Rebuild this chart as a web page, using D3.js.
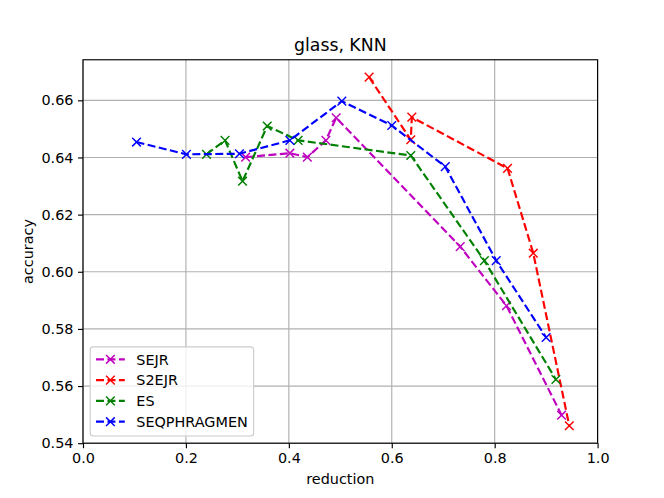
<!DOCTYPE html>
<html>
<head>
<meta charset="utf-8">
<script src="https://cdn.jsdelivr.net/npm/d3@7"></script>
<style>
  body { margin: 0; background: #fff; }
  svg { font-family: "DejaVu Sans", sans-serif; }
</style>
</head>
<body>
<svg width="664" height="498"></svg>
<script>
// series (reduction, accuracy)
var sejrX = [0.316, 0.402, 0.436, 0.472, 0.492, 0.733, 0.823, 0.930];
var sejrY = [0.6401, 0.6415, 0.6401, 0.6460, 0.6539, 0.6088, 0.5881, 0.5498];

var s2ejrX = [0.556, 0.637, 0.639, 0.825, 0.875, 0.945];
var s2ejrY = [0.6681, 0.6462, 0.6541, 0.6362, 0.6065, 0.5461];

var esX = [0.240, 0.276, 0.310, 0.358, 0.418, 0.637, 0.780, 0.919];
var esY = [0.6411, 0.6460, 0.6317, 0.6510, 0.6460, 0.6407, 0.6039, 0.5623];

var seqX = [0.104, 0.201, 0.304, 0.402, 0.503, 0.600, 0.704, 0.803, 0.900];
var seqY = [0.6454, 0.6411, 0.6413, 0.6460, 0.6597, 0.6512, 0.6368, 0.6039, 0.5770];

var seriesNames = ["SEJR", "S2EJR", "ES", "SEQPHRAGMEN"];
var seriesColors = ["#bf00bf", "#ff0000", "#008000", "#0000ff"];

var xTicks = [0.0, 0.2, 0.4, 0.6, 0.8, 1.0];
var yTicks = [0.54, 0.56, 0.58, 0.60, 0.62, 0.64, 0.66];

function zipSeries(xs, ys) {
    return xs.map(function(x, i) { return {x: x, y: ys[i]}; });
}

var series = [
    zipSeries(sejrX, sejrY),
    zipSeries(s2ejrX, s2ejrY),
    zipSeries(esX, esY),
    zipSeries(seqX, seqY)
];

function drawCross(g, cx, cy, size, color) {
    var h = size / 2;
    g.append("path")
        .attr("d", `M${cx - h},${cy - h}L${cx + h},${cy + h}M${cx - h},${cy + h}L${cx + h},${cy - h}`)
        .attr("stroke", color)
        .attr("stroke-width", 1.44)
        .attr("fill", "none");
}

function demo() {
    var svg = d3.select("svg");
    var W = 664, H = 498;
    var left = 83, right = 597.6, top = 59.76, bottom = 443.2;
    var fs = 14.4;

    // y range like matplotlib: data extent plus 5% margin
    var allY = sejrY.concat(s2ejrY, esY, seqY);
    var yMin = d3.min(allY), yMax = d3.max(allY);
    var pad = (yMax - yMin) * 0.05;

    var scX = d3.scaleLinear().domain([0, 1]).range([left, right]);
    var scY = d3.scaleLinear().domain([yMin - pad, yMax + pad]).range([bottom, top]);

    // grid
    var grid = svg.append("g");
    grid.selectAll("line.gx")
        .data(xTicks)
        .enter()
        .append("line")
        .attr("x1", d => scX(d)).attr("x2", d => scX(d))
        .attr("y1", top).attr("y2", bottom)
        .attr("stroke", "#b0b0b0").attr("stroke-width", 1.15);
    grid.selectAll("line.gy")
        .data(yTicks)
        .enter()
        .append("line")
        .attr("x1", left).attr("x2", right)
        .attr("y1", d => scY(d)).attr("y2", d => scY(d))
        .attr("stroke", "#b0b0b0").attr("stroke-width", 1.15);

    // data
    var lineMaker = d3.line()
        .x(d => scX(d.x))
        .y(d => scY(d.y));
    series.forEach(function(data, i) {
        var g = svg.append("g");
        g.append("path")
            .attr("d", lineMaker(data))
            .attr("fill", "none")
            .attr("stroke", seriesColors[i])
            .attr("stroke-width", 2.16)
            .attr("stroke-dasharray", "8,3.46");
        data.forEach(function(d) {
            drawCross(g, scX(d.x), scY(d.y), 8.65, seriesColors[i]);
        });
    });

    // axes
    var xAxis = d3.axisBottom(scX)
        .tickValues(xTicks)
        .tickFormat(d3.format(".1f"))
        .tickSize(5).tickPadding(4.5);
    var gx = svg.append("g")
        .attr("transform", `translate(0,${bottom})`)
        .call(xAxis);
    var yAxis = d3.axisLeft(scY)
        .tickValues(yTicks)
        .tickFormat(d3.format(".2f"))
        .tickSize(5).tickPadding(4.5);
    var gy = svg.append("g")
        .attr("transform", `translate(${left},0)`)
        .call(yAxis);
    [gx, gy].forEach(function(g) {
        g.select(".domain").remove();
        g.selectAll(".tick line").attr("stroke", "#000").attr("stroke-width", 1.15);
        g.selectAll(".tick text")
            .attr("fill", "#000")
            .style("font-family", "DejaVu Sans")
            .style("font-size", fs + "px");
    });

    // frame
    svg.append("rect")
        .attr("x", left).attr("y", top)
        .attr("width", right - left).attr("height", bottom - top)
        .attr("fill", "none")
        .attr("stroke", "#000").attr("stroke-width", 1.15);

    // labels
    svg.append("text")
        .attr("x", (left + right) / 2).attr("y", 51)
        .attr("text-anchor", "middle")
        .style("font-size", "17.3px")
        .text("glass, KNN");
    svg.append("text")
        .attr("x", (left + right) / 2).attr("y", 484)
        .attr("text-anchor", "middle")
        .style("font-size", fs + "px")
        .text("reduction");
    svg.append("text")
        .attr("transform", `translate(33,${(top + bottom) / 2}) rotate(-90)`)
        .attr("text-anchor", "middle")
        .style("font-size", fs + "px")
        .text("accuracy");

    // legend, lower left
    var lg = svg.append("g");
    var box = lg.append("rect")
        .attr("fill", "#fff").attr("fill-opacity", 0.8)
        .attr("stroke", "#cccccc").attr("stroke-width", 1.15)
        .attr("rx", 3);
    var lx = left + 7.2;
    var rowH = 20.8;
    var boxH = 4 * rowH + 6;
    var ly = bottom - 7.2 - boxH;
    var maxW = 0;
    seriesNames.forEach(function(name, i) {
        var cy = ly + 12.5 + i * rowH;
        lg.append("line")
            .attr("x1", lx + 5.8).attr("x2", lx + 34.6)
            .attr("y1", cy).attr("y2", cy)
            .attr("stroke", seriesColors[i])
            .attr("stroke-width", 2.16)
            .attr("stroke-dasharray", "8,3.46");
        drawCross(lg, lx + 20.2, cy, 8.65, seriesColors[i]);
        var t = lg.append("text")
            .attr("x", lx + 46.1).attr("y", cy + 5.2)
            .style("font-size", fs + "px")
            .text(name);
        maxW = Math.max(maxW, t.node().getComputedTextLength());
    });
    box.attr("x", lx).attr("y", ly)
        .attr("width", 46.1 + maxW + 5.8)
        .attr("height", boxH);
}

demo();
</script>
</body>
</html>
